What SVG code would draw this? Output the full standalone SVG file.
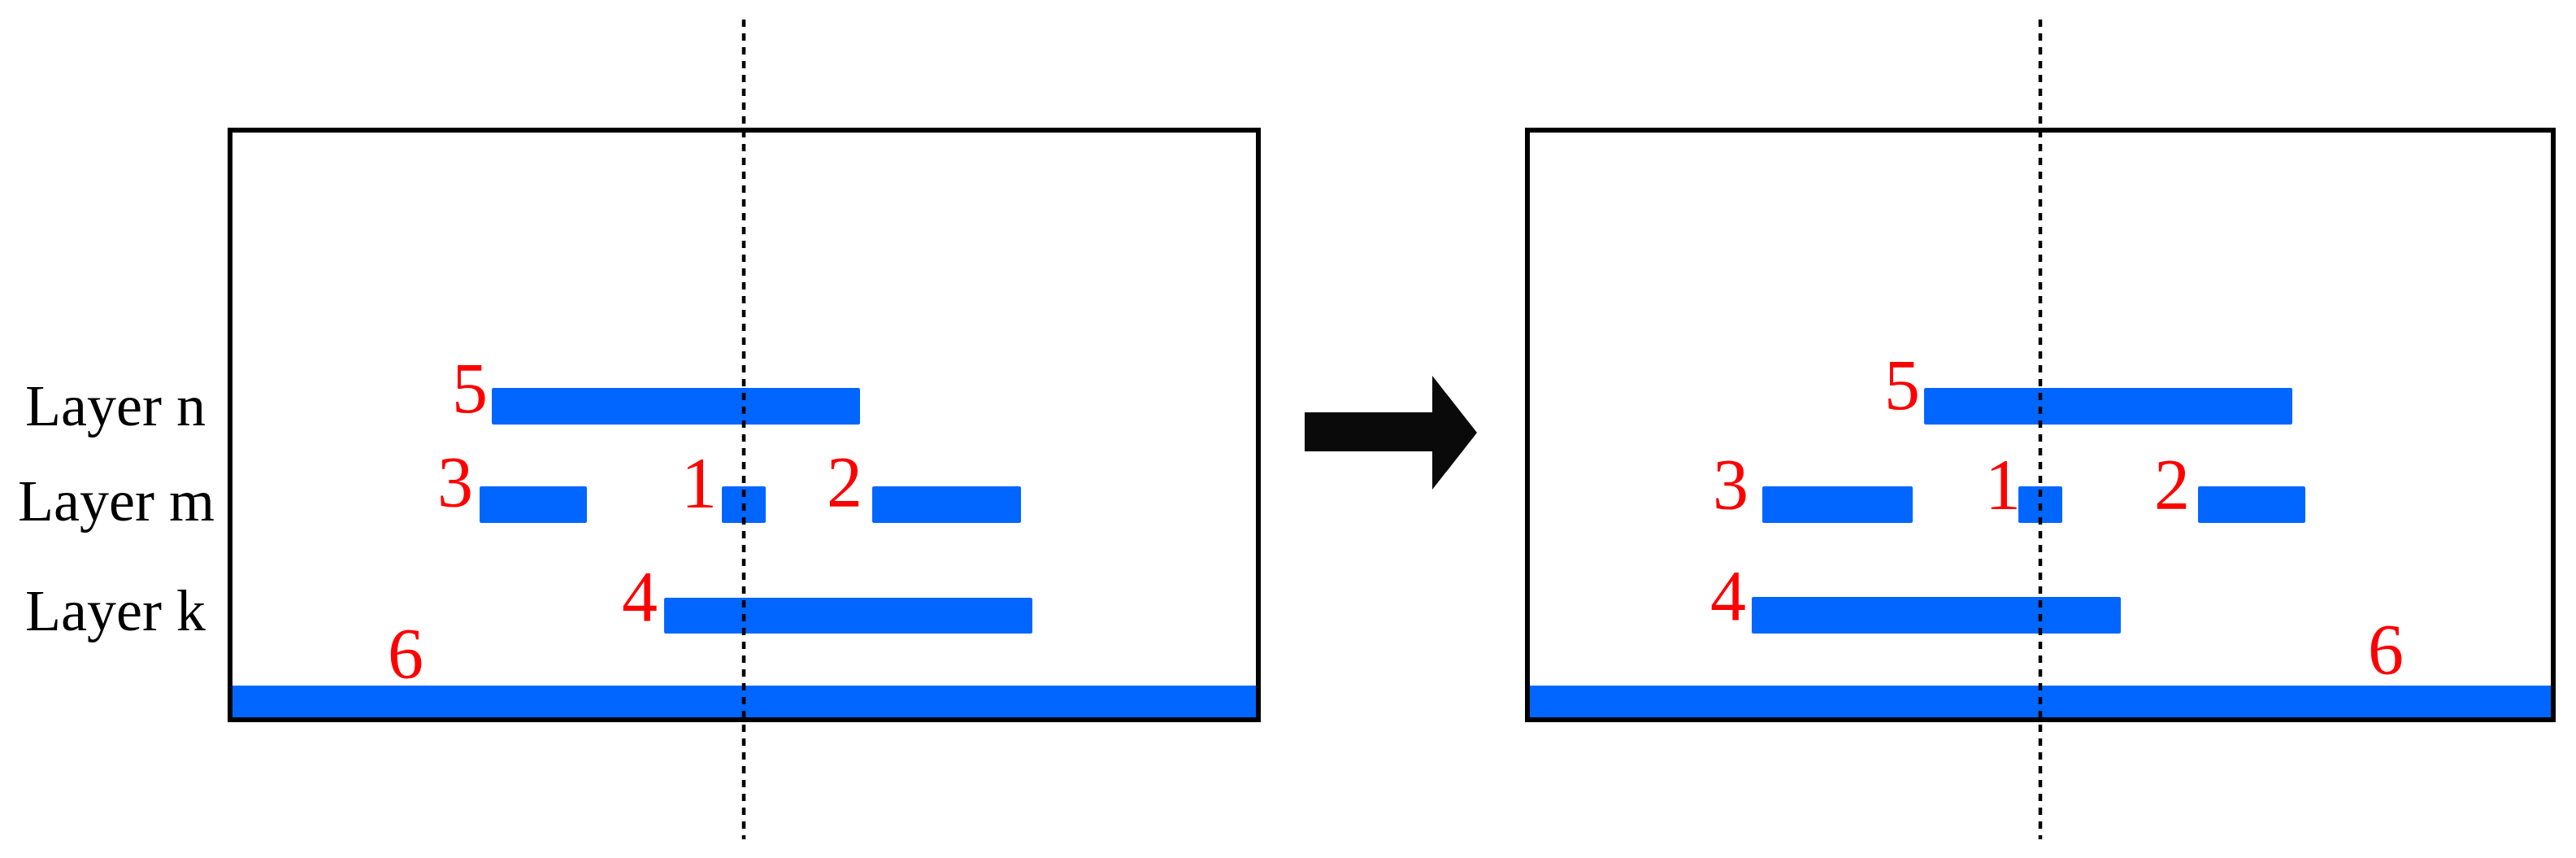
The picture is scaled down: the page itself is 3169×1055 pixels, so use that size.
<svg xmlns="http://www.w3.org/2000/svg" width="3169" height="1055" viewBox="0 0 3169 1055">
<style>
.frame{fill:none;stroke:#000;stroke-width:6}
.bar{fill:#0066FF}
.num{font-family:"Liberation Serif","Times New Roman",serif;font-size:88px;fill:#FF0000;text-anchor:middle}
.lbl{font-family:"Liberation Serif","Times New Roman",serif;font-size:72px;fill:#000;text-anchor:middle}
.axis{stroke:#000;stroke-width:4.5;stroke-dasharray:9 8;fill:none}
</style>
<rect width="3169" height="1055" fill="#fff"/>
<g id="labels">
<text class="lbl" x="142" y="523">Layer n</text>
<text class="lbl" x="143" y="640">Layer m</text>
<text class="lbl" x="142" y="775">Layer k</text>
</g>
<g id="panel-left">
<rect class="bar" x="286" y="843" width="1259" height="40"/>
<rect class="frame" x="283" y="160" width="1265" height="725"/>
<g id="L-bar5"><rect class="bar" x="605" y="477" width="453" height="45" rx="2"/><text class="num" x="578" y="507">5</text></g>
<g id="L-bar3"><rect class="bar" x="590" y="598" width="132" height="45" rx="2"/><text class="num" x="560" y="622">3</text></g>
<g id="L-bar1"><rect class="bar" x="888" y="598" width="54" height="45" rx="2"/><text class="num" x="860" y="623">1</text></g>
<g id="L-bar2"><rect class="bar" x="1073" y="598" width="183" height="45" rx="2"/><text class="num" x="1039" y="622">2</text></g>
<g id="L-bar4"><rect class="bar" x="817" y="735" width="453" height="44" rx="2"/><text class="num" x="787" y="763">4</text></g>
<g id="L-bar6"><text class="num" x="499" y="833">6</text></g>
</g>
<g id="panel-right">
<rect class="bar" x="1882" y="843" width="1256" height="40"/>
<rect class="frame" x="1879" y="160" width="1262" height="725"/>
<g id="R-bar5"><rect class="bar" x="2367" y="477" width="453" height="45" rx="2"/><text class="num" x="2340" y="503">5</text></g>
<g id="R-bar3"><rect class="bar" x="2168" y="598" width="185" height="45" rx="2"/><text class="num" x="2129" y="625">3</text></g>
<g id="R-bar1"><rect class="bar" x="2483" y="598" width="54" height="45" rx="2"/><text class="num" x="2464" y="625">1</text></g>
<g id="R-bar2"><rect class="bar" x="2704" y="598" width="132" height="45" rx="2"/><text class="num" x="2672" y="625">2</text></g>
<g id="R-bar4"><rect class="bar" x="2155" y="734" width="454" height="45" rx="2"/><text class="num" x="2126" y="762">4</text></g>
<g id="R-bar6"><text class="num" x="2935" y="828">6</text></g>
</g>
<g id="connectors">
<line class="axis" x1="915" y1="24" x2="915" y2="1032"/>
<line class="axis" x1="2510" y1="24" x2="2510" y2="1032"/>
<polygon id="arrow" points="1605,507 1762,507 1762,462 1817,532 1762,602 1762,555 1605,555" fill="#0a0a0a"/>
</g>
</svg>
